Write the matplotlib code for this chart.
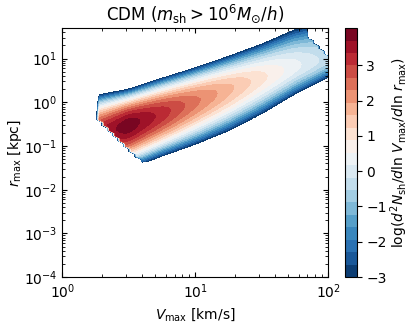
import matplotlib
matplotlib.use('Agg')
import matplotlib.pyplot as plt
import numpy as np

# Ridge of the subhalo distribution (log10 units)
logv_nodes = [0.22, 0.5, 0.75, 1.0, 1.25, 1.5, 1.75, 2.05]
ridge_logr = [-0.78, -0.52, -0.25, 0.03, 0.30, 0.56, 0.81, 1.05]
ridge_level = [3.2, 3.95, 3.2, 2.4, 1.7, 1.0, 0.3, -0.5]
width_up = [0.92, 0.82, 0.80, 0.76, 0.75, 0.77, 0.85, 0.85]
width_dn = [1.00, 1.00, 0.98, 0.99, 0.95, 0.82, 0.62, 0.40]

# sample cuts (log10): Vmax resolution, mass cut, top-right notch
logv_min = 0.25
mass_cut = (0.36, -2.9)          # log r > a + b log V
notch = (1.84, 1.55, -3.0)       # log V > v0 and log r > r0 + s (log V - v0)

levels = np.linspace(-3, 4.05, 21)
cbar_ticks = [-3, -2, -1, 0, 1, 2, 3]

# build the density map on a log grid
lv = np.arange(0.0, 2.12, 0.04)
lr = np.arange(-4.0, 1.8, 0.06)
LV, LR = np.meshgrid(lv, lr)

rc = np.interp(LV, logv_nodes, ridge_logr)
pk = np.interp(LV, logv_nodes, ridge_level)
wu = np.interp(LV, logv_nodes, width_up)
wd = np.interp(LV, logv_nodes, width_dn)
d = LR - rc
w = np.where(d > 0, wu, wd)
Z = pk - (pk + 3.0) * (d / w) ** 2

cut = (LV < logv_min) | (LR < mass_cut[0] + mass_cut[1] * LV)
cut |= (LV > notch[0]) & (LR > notch[1] + notch[2] * (LV - notch[0]))
Z[cut] = -8.0

fig = plt.figure(figsize=(4.09, 3.23), dpi=100)
ax = fig.add_axes([0.152, 0.142, 0.650, 0.771])
cax = fig.add_axes([0.843, 0.142, 0.029, 0.771])

cf = ax.contourf(10 ** LV, 10 ** LR, Z, levels=levels, cmap='RdBu_r')
ax.set_xscale('log')
ax.set_yscale('log')
ax.set_xlim(1, 100)
ax.set_ylim(1e-4, 50)
ax.tick_params(which='both', direction='in', top=True, right=True, labelsize=10)
ax.set_xlabel(r'$V_{\rm max}$ [km/s]', fontsize=10)
ax.set_ylabel(r'$r_{\rm max}$ [kpc]', fontsize=10, labelpad=0)
ax.set_title(r'CDM ($m_{\rm sh} > 10^6 M_{\odot}/h$)', fontsize=12)

cb = fig.colorbar(cf, cax=cax, ticks=cbar_ticks)
cb.ax.tick_params(labelsize=10)
cb.set_label(r'log($d^2N_{\rm sh}/d{\rm ln}\ V_{\rm max}/d{\rm ln}\ r_{\rm max}$)',
             fontsize=10, labelpad=1)

fig.savefig('out.png', dpi=100)
